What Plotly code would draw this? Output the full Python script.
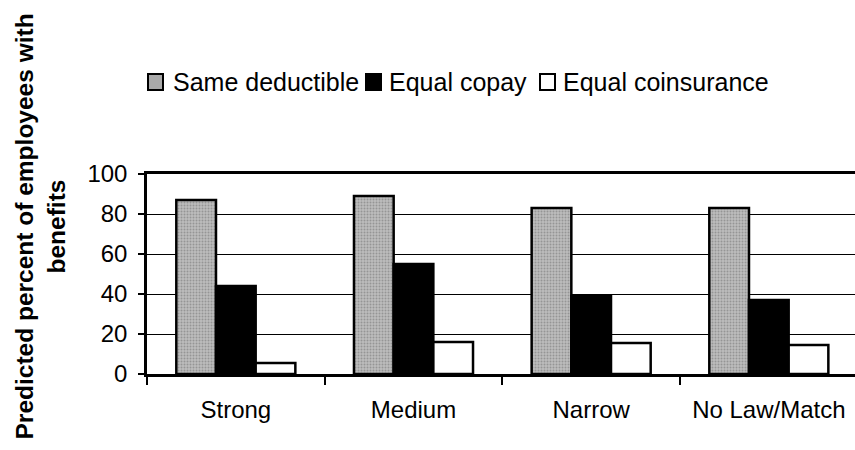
import plotly.graph_objects as go

# Benefit design categories and predicted percentages
categories = ["Strong", "Medium", "Narrow", "No Law/Match"]
series_names = ["Same deductible", "Equal copay", "Equal coinsurance"]
same_deductible = [87, 89, 83, 83]
equal_copay = [44, 55, 39, 37]
equal_coinsurance = [5.5, 16, 15.5, 14.5]
y_ticks = [0, 20, 40, 60, 80, 100]
y_title_lines = ["Predicted percent of employees with", "benefits"]

W, H = 855, 450
ML, MR, MT, MB = 147, 0, 174, 76
PW, PH = W - ML - MR, H - MT - MB

FONT = "Liberation Sans, Arial, Helvetica, sans-serif"


def px_x(px):
    return (px - ML) / PW


def px_y(py):
    return (H - MB - py) / PH


fig = go.Figure()

fig.add_trace(go.Bar(
    x=categories, y=same_deductible, name=series_names[0],
    marker=dict(
        color="#b4b4b4",
        line=dict(color="black", width=2.5),
        pattern=dict(shape=".", fgcolor="#6e6e6e", bgcolor="#bcbcbc",
                     size=3, solidity=0.35),
    ),
))
fig.add_trace(go.Bar(
    x=categories, y=equal_copay, name=series_names[1],
    marker=dict(color="black", line=dict(color="black", width=2.5)),
))
fig.add_trace(go.Bar(
    x=categories, y=equal_coinsurance, name=series_names[2],
    marker=dict(color="white", line=dict(color="black", width=2.5)),
))

# Legend row drawn as swatches plus labels
legend_items = [
    (148, 171, series_names[0], "#a9a9a9"),
    (366, 387, series_names[1], "black"),
    (540, 561, series_names[2], "white"),
]
shapes = []
annotations = []
for sx, tx, label, fill in legend_items:
    shapes.append(dict(
        type="rect", xref="paper", yref="paper",
        x0=px_x(sx), x1=px_x(sx + 15), y0=px_y(90), y1=px_y(74),
        fillcolor=fill, line=dict(color="black", width=2),
    ))
    annotations.append(dict(
        xref="paper", yref="paper", x=px_x(tx), y=px_y(82),
        xanchor="left", yanchor="middle", showarrow=False,
        text=label, font=dict(family=FONT, size=25, color="black"),
    ))

# Vertical axis title, one annotation per line
for cx, line in zip([24, 56], y_title_lines):
    annotations.append(dict(
        xref="paper", yref="paper", x=px_x(cx), y=px_y(226.5),
        xanchor="center", yanchor="middle", showarrow=False, textangle=-90,
        text="<b>" + line + "</b>",
        font=dict(family=FONT, size=24.5, color="black"),
    ))

fig.update_layout(
    width=W, height=H,
    margin=dict(l=ML, r=MR, t=MT, b=MB, pad=0),
    paper_bgcolor="white", plot_bgcolor="white",
    barmode="group", bargap=0.33, bargroupgap=0,
    showlegend=False,
    shapes=shapes, annotations=annotations,
    font=dict(family=FONT, size=24, color="black"),
)

fig.update_xaxes(
    type="category", range=[-0.5, 3.485],
    showline=True, linecolor="black", linewidth=2.5, mirror=True,
    ticks="outside", tickson="boundaries", ticklen=8, tickwidth=1.5,
    tickcolor="black", ticklabelstandoff=12,
    tickfont=dict(family=FONT, size=24, color="black"),
    showgrid=False,
)
fig.update_yaxes(
    range=[0, 100], tickvals=y_ticks,
    showline=True, linecolor="black", linewidth=2.5,
    ticks="outside", ticklen=6, tickwidth=1.5, tickcolor="black",
    ticklabelstandoff=6,
    tickfont=dict(family=FONT, size=24, color="black"),
    showgrid=True, gridcolor="black", gridwidth=1, zeroline=False,
)

fig.write_html("out.html")
